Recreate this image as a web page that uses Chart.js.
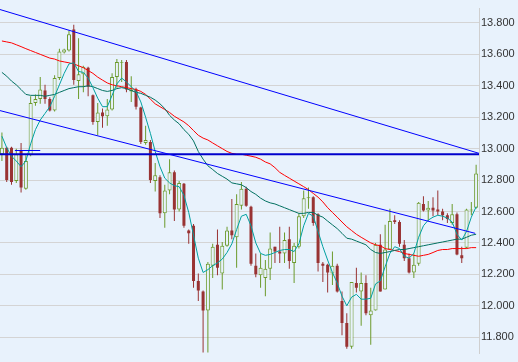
<!DOCTYPE html>
<html><head><meta charset="utf-8">
<script src="https://cdn.jsdelivr.net/npm/chart.js@4/dist/chart.umd.min.js"></script>
<style>html,body{margin:0;padding:0;background:#E8F2FC;overflow:hidden}#wrap{width:518px;height:362px}</style>
</head><body><div id="wrap"><canvas id="c" width="518" height="362"></canvas></div>
<script>
const openP = [12.964,13.006,13.006,12.794,12.988,12.745,12.958,13.291,13.315,13.370,
13.315,13.242,13.449,13.612,13.624,13.758,13.430,13.473,13.515,13.339,
13.170,13.230,13.206,13.249,13.455,13.546,13.552,13.364,13.376,13.261,
13.036,13.042,12.794,12.818,12.588,12.733,12.849,12.612,12.776,12.479,
12.509,12.158,12.091,11.970,12.255,12.388,12.206,12.382,12.479,12.436,
12.636,12.745,12.630,12.255,12.194,12.176,12.236,12.376,12.345,12.333,
12.424,12.273,12.376,12.570,12.685,12.691,12.582,12.267,12.261,12.206,
12.255,12.030,11.891,11.739,12.145,12.091,12.145,11.939,11.970,12.388,
12.103,12.358,12.545,12.533,12.388,12.303,12.212,12.267,12.648,12.606,
12.624,12.612,12.600,12.576,12.527,12.582,12.321,12.370,12.606,12.624];
const highP = [13.103,13.012,13.012,13.000,13.036,12.958,13.333,13.345,13.455,13.406,
13.327,13.467,13.636,13.636,13.752,13.788,13.703,13.527,13.521,13.345,
13.291,13.255,13.315,13.479,13.570,13.564,13.564,13.461,13.388,13.267,
13.146,13.055,12.909,12.830,12.770,12.933,12.861,12.794,12.782,12.485,
12.521,12.206,12.097,12.279,12.394,12.485,12.406,12.503,12.679,12.709,
12.788,12.758,12.636,12.333,12.333,12.291,12.467,12.376,12.503,12.467,
12.503,12.400,12.588,12.733,12.752,12.697,12.588,12.279,12.267,12.345,
12.267,12.091,11.952,12.152,12.242,12.212,12.194,12.115,12.400,12.455,
12.515,12.618,12.576,12.545,12.418,12.333,12.333,12.661,12.697,12.667,
12.691,12.733,12.618,12.588,12.648,12.594,12.376,12.618,12.661,12.897];
const lowP = [12.921,12.788,12.770,12.782,12.721,12.739,12.952,13.273,13.285,13.285,
13.236,13.236,13.436,13.606,13.618,13.406,13.315,13.358,13.333,13.152,
13.085,13.133,13.146,13.242,13.388,13.424,13.358,13.297,13.249,13.030,
13.024,12.782,12.727,12.558,12.497,12.709,12.539,12.600,12.497,12.394,
12.115,12.030,11.703,11.703,12.176,12.194,12.103,12.376,12.424,12.242,
12.612,12.630,12.255,12.182,12.115,12.061,12.164,12.273,12.273,12.273,
12.236,12.145,12.364,12.558,12.618,12.509,12.218,12.152,12.085,12.133,
12.085,11.812,11.727,11.727,12.085,11.873,11.939,11.752,11.970,12.091,
12.103,12.358,12.521,12.376,12.285,12.206,12.176,12.255,12.600,12.539,
12.570,12.576,12.545,12.527,12.515,12.321,12.273,12.364,12.576,12.618];
const closeP = [13.006,12.800,12.788,12.964,12.752,12.921,13.291,13.315,13.376,13.315,
13.242,13.449,13.618,13.630,13.727,13.436,13.473,13.521,13.394,13.170,
13.230,13.206,13.249,13.455,13.552,13.552,13.376,13.376,13.267,13.042,
13.055,12.800,12.830,12.588,12.733,12.849,12.612,12.782,12.509,12.461,
12.158,12.097,11.970,12.267,12.376,12.242,12.382,12.479,12.449,12.648,
12.745,12.636,12.267,12.200,12.242,12.236,12.364,12.345,12.333,12.418,
12.285,12.382,12.570,12.685,12.691,12.527,12.273,12.255,12.212,12.255,
12.091,11.891,11.739,12.152,12.115,12.145,11.952,11.970,12.388,12.091,
12.358,12.539,12.533,12.394,12.303,12.212,12.261,12.655,12.606,12.624,
12.606,12.600,12.576,12.552,12.582,12.327,12.303,12.612,12.612,12.842];
const maLong = [13.685,13.679,13.673,13.661,13.649,13.636,13.624,13.612,13.600,13.588,
13.576,13.570,13.558,13.552,13.546,13.539,13.527,13.515,13.497,13.479,
13.455,13.436,13.418,13.406,13.400,13.394,13.388,13.382,13.376,13.364,
13.345,13.315,13.285,13.267,13.249,13.230,13.206,13.188,13.170,13.146,
13.115,13.085,13.067,13.055,13.036,13.018,13.000,12.982,12.970,12.964,
12.964,12.958,12.952,12.945,12.933,12.915,12.903,12.879,12.849,12.830,
12.812,12.794,12.776,12.758,12.739,12.715,12.691,12.661,12.624,12.594,
12.564,12.533,12.503,12.479,12.455,12.436,12.418,12.400,12.388,12.382,
12.364,12.358,12.352,12.345,12.333,12.327,12.321,12.315,12.321,12.327,
12.339,12.352,12.358,12.358,12.364,12.364,12.364,12.364,12.370,12.370];
const maMid = [13.485,13.461,13.430,13.406,13.376,13.345,13.339,13.339,13.339,13.333,
13.339,13.345,13.358,13.370,13.382,13.388,13.394,13.394,13.400,13.394,
13.382,13.370,13.364,13.370,13.382,13.388,13.382,13.370,13.358,13.352,
13.339,13.327,13.309,13.285,13.255,13.212,13.182,13.158,13.121,13.091,
13.049,12.982,12.933,12.891,12.867,12.842,12.824,12.806,12.782,12.776,
12.770,12.752,12.727,12.709,12.685,12.667,12.655,12.648,12.636,12.624,
12.612,12.600,12.588,12.588,12.594,12.594,12.576,12.564,12.539,12.515,
12.491,12.461,12.430,12.424,12.412,12.400,12.388,12.358,12.339,12.333,
12.339,12.345,12.352,12.358,12.358,12.364,12.370,12.376,12.382,12.388,
12.394,12.400,12.406,12.412,12.418,12.424,12.424,12.436,12.449,12.455];
const maShort = [13.079,13.006,12.952,12.921,12.885,12.921,13.030,13.121,13.182,13.224,
13.267,13.333,13.406,13.479,13.539,13.546,13.491,13.485,13.449,13.388,
13.321,13.267,13.267,13.339,13.412,13.449,13.424,13.394,13.364,13.297,
13.200,13.097,12.982,12.885,12.812,12.782,12.764,12.758,12.703,12.594,
12.449,12.303,12.212,12.230,12.255,12.273,12.297,12.339,12.394,12.485,
12.570,12.582,12.509,12.400,12.333,12.321,12.327,12.339,12.352,12.358,
12.358,12.345,12.394,12.509,12.588,12.570,12.473,12.376,12.291,12.212,
12.145,12.061,12.000,12.055,12.073,12.042,12.042,12.048,12.139,12.158,
12.248,12.333,12.376,12.364,12.315,12.303,12.333,12.436,12.509,12.545,
12.564,12.576,12.570,12.558,12.533,12.455,12.418,12.473,12.564,12.630];
const yTickValues = [11.8,12.0,12.2,12.4,12.6,12.8,13.0,13.2,13.4,13.6,13.8];
const xGridTicks = [48.66];
const upperTrend = [{x:-0.4,y:13.885},{x:99.6,y:12.970}];
const lowerTrend = [{x:-0.4,y:13.242},{x:98.8,y:12.461}];
const levelLine = [{x:-0.4,y:12.964},{x:99.6,y:12.964}];
const shortLevel = [{x:2.7,y:12.988},{x:8.0,y:12.988}];

const BG = '#E8F2FC', UP = '#6B9A2B', DN = '#993333', GRID = '#d4d4d4';
const idx = openP.map((_, i) => i);
const up = idx.filter(i => closeP[i] >= openP[i]);
const dn = idx.filter(i => closeP[i] < openP[i]);
const wick = (ids) => ids.map(i => ({x: i, y: [lowP[i], highP[i]]}));
const body = (ids) => ids.map(i => ({x: i, y: [openP[i], closeP[i]]}));
const line = (arr) => arr.map((v, i) => ({x: i, y: v}));
const barBase = {type: 'bar', grouped: false, borderSkipped: false, inflateAmount: 0};
const lineBase = {type: 'line', pointRadius: 0, borderWidth: 1, tension: 0, fill: false};

new Chart(document.getElementById('c'), {
  type: 'bar',
  data: {datasets: [
    {...barBase, data: wick(up), backgroundColor: UP, barThickness: 1, order: 6},
    {...barBase, data: wick(dn), backgroundColor: DN, barThickness: 1, order: 6},
    {...barBase, data: body(up), backgroundColor: BG, borderColor: UP, borderWidth: 1, barThickness: 4, order: 5},
    {...barBase, data: body(dn), backgroundColor: DN, barThickness: 3, order: 5},
    {...lineBase, data: line(maLong), borderColor: '#ff0000', order: 3},
    {...lineBase, data: line(maMid), borderColor: '#007060', order: 2},
    {...lineBase, data: line(maShort), borderColor: '#00a0a0', order: 1},
    {...lineBase, data: upperTrend, borderColor: '#0000ff', order: 0},
    {...lineBase, data: lowerTrend, borderColor: '#0000ff', order: 0},
    {...lineBase, data: levelLine, borderColor: '#0000cc', borderWidth: 2, order: 0},
    {...lineBase, data: shortLevel, borderColor: '#0000ff', order: 0}
  ]},
  options: {
    responsive: false, animation: false, devicePixelRatio: 1,
    layout: {padding: 0},
    plugins: {legend: {display: false}, tooltip: {enabled: false}},
    scales: {
      x: {type: 'linear', min: -0.4, max: 99.6, offset: false,
          ticks: {display: false}, grid: {color: GRID, drawTicks: false}, border: {display: false},
          afterBuildTicks: s => { s.ticks = xGridTicks.map(v => ({value: v})); },
          afterFit: s => { s.height = 0; }},
      y: {type: 'linear', position: 'right', min: 11.697, max: 13.891,
          afterBuildTicks: s => { s.ticks = yTickValues.map(v => ({value: v})); },
          afterFit: s => { s.width = 39; },
          ticks: {callback: v => Number(v).toFixed(3), color: '#333', padding: 2,
                  font: {family: '"Liberation Sans", Arial, sans-serif', size: 11}},
          grid: {color: GRID, drawTicks: false}, border: {display: true, color: '#cfcfcf'}}
    }
  }
});
</script></body></html>
